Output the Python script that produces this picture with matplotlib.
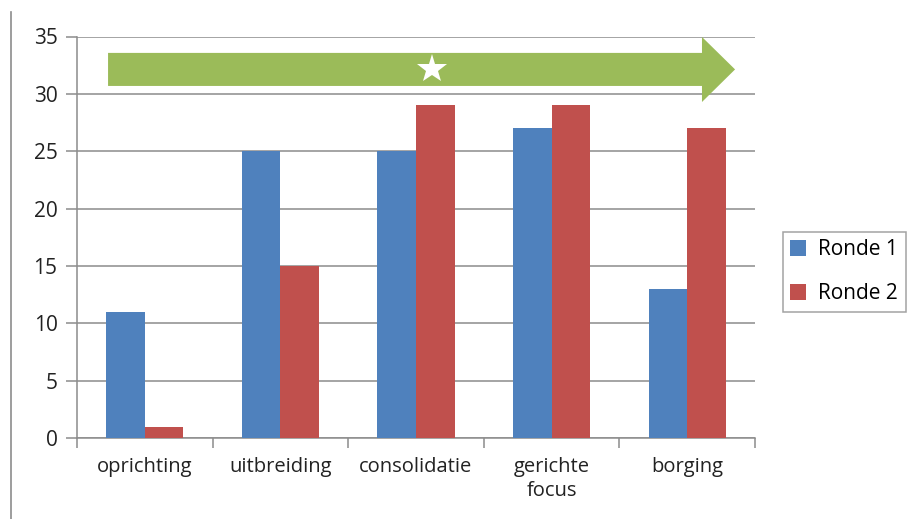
import matplotlib
matplotlib.use("Agg")
import matplotlib.pyplot as plt
import numpy as np
from matplotlib.lines import Line2D

categories = ["oprichting", "uitbreiding", "consolidatie", "gerichte\nfocus", "borging"]
ronde1 = [11, 25, 25, 27, 13]
ronde2 = [1, 15, 29, 29, 27]
series_names = ["Ronde 1", "Ronde 2"]
yticks = [0, 5, 10, 15, 20, 25, 30, 35]

plt.rcParams['font.family'] = ['Open Sans', 'DejaVu Sans']

fig = plt.figure(figsize=(9.15, 5.19), dpi=100)
ax = fig.add_axes([77/915, 1 - 438/519, (755-77)/915, (438-36.5)/519])

x = np.arange(len(categories))
w = 0.284
blue = "#4F81BD"
red = "#C0504D"
green = "#9BBB59"
ax.bar(x - w/2, ronde1, w, color=blue, label=series_names[0], zorder=3)
ax.bar(x + w/2, ronde2, w, color=red, label=series_names[1], zorder=3)

ax.set_xlim(-0.5, len(categories) - 0.5)
ax.set_ylim(0, 35)
ax.set_yticks(yticks)
ax.yaxis.grid(True, color="#8c8c8c", linewidth=1.1)
ax.set_axisbelow(True)
ax.set_xticks(np.arange(-0.5, len(categories), 1.0))
ax.set_xticklabels([])
ax.set_xticks(x, minor=True)
ax.set_xticklabels(categories, minor=True, fontsize=14.5, color="#222222", linespacing=1.25)
ax.tick_params(axis='x', which='minor', length=0, pad=14)
ax.tick_params(axis='x', which='major', length=7, color="#8c8c8c", width=1.1)
ax.tick_params(axis='y', length=8, color="#8c8c8c", width=1.1, labelsize=15, labelcolor="#222222", pad=6)
for s in ["top", "right"]:
    ax.spines[s].set_visible(False)
for s in ["left", "bottom"]:
    ax.spines[s].set_color("#8c8c8c")
    ax.spines[s].set_linewidth(1.1)

# green arrow with star (decoration)
arrow_x = [-0.271, 4.109, 4.109, 4.353, 4.109, 4.109, -0.271]
arrow_y = [33.57, 33.57, 34.96, 32.13, 29.29, 30.69, 30.69]
ax.fill(arrow_x, arrow_y, color=green, zorder=4, linewidth=0)
ax.plot([2.118], [32.2], marker="*", markersize=22, color="white", markeredgewidth=0, zorder=5)

leg = fig.legend(loc="upper left", bbox_to_anchor=(783/915, 1 - 232/519), fontsize=15,
                 frameon=True, fancybox=False, edgecolor="#8c8c8c", handlelength=0.75,
                 handleheight=0.75, labelspacing=1.1, borderpad=0.35, handletextpad=0.6,
                 borderaxespad=0)
leg.get_frame().set_linewidth(1.1)

fig.add_artist(Line2D([11/915, 11/915], [0, 1 - 12/519], color="#8c8c8c", linewidth=1.2))

fig.savefig("out.png", dpi=100)
